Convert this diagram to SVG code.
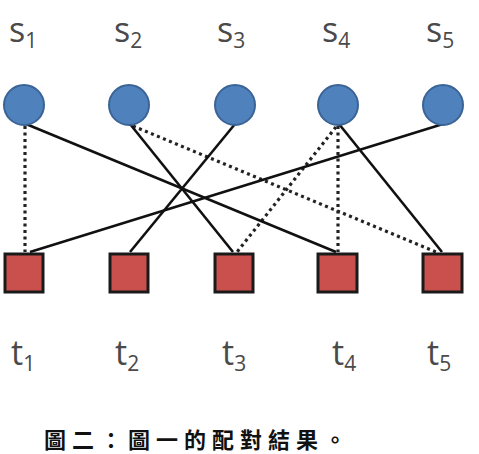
<svg xmlns="http://www.w3.org/2000/svg" width="479" height="454" viewBox="0 0 479 454">
<style>
.lbl{font-family:"Open Sans","Liberation Sans",sans-serif;font-size:34px;fill:#4a4a4a}
.sub{font-size:21px}
.src{fill:#4f81bd;stroke:#3a6496;stroke-width:2}
.dst{fill:#c9504d;stroke:#1a1a1a;stroke-width:3}
.solid{stroke:#111;stroke-width:2.6;fill:none}
.dot{stroke:#222;stroke-width:3.2;stroke-dasharray:3 3.5;fill:none}
.cap{font-family:"Noto Sans CJK TC","Noto Sans CJK SC",sans-serif;font-size:22px;font-weight:700;fill:#111;letter-spacing:6px}
</style>
<rect width="479" height="454" fill="#fff"/>
<g id="connectors">
<line class="dot" x1="25" y1="126" x2="25" y2="252"/>
<line class="dot" x1="133" y1="126" x2="436" y2="252"/>
<line class="dot" x1="336" y1="127" x2="237" y2="252"/>
<line class="dot" x1="338" y1="126" x2="338" y2="252"/>
<line class="solid" x1="26" y1="124" x2="336" y2="252"/>
<line class="solid" x1="130" y1="124" x2="233" y2="252"/>
<line class="solid" x1="235" y1="124" x2="130" y2="252"/>
<line class="solid" x1="339" y1="124" x2="442" y2="252"/>
<line class="solid" x1="443" y1="124" x2="30" y2="252"/>
</g>
<g id="s1"><circle class="src" cx="24" cy="105" r="20"/><text class="lbl" x="9" y="42">s<tspan class="sub" dy="6">1</tspan></text></g>
<g id="s2"><circle class="src" cx="129" cy="105" r="20"/><text class="lbl" x="114" y="42">s<tspan class="sub" dy="6">2</tspan></text></g>
<g id="s3"><circle class="src" cx="235" cy="105" r="20"/><text class="lbl" x="217" y="42">s<tspan class="sub" dy="6">3</tspan></text></g>
<g id="s4"><circle class="src" cx="338" cy="105" r="20"/><text class="lbl" x="322" y="42">s<tspan class="sub" dy="6">4</tspan></text></g>
<g id="s5"><circle class="src" cx="443" cy="105" r="20"/><text class="lbl" x="426" y="42">s<tspan class="sub" dy="6">5</tspan></text></g>
<g id="t1"><rect class="dst" x="5" y="254" width="38" height="38"/><text class="lbl" x="11" y="365">t<tspan class="sub" dy="6">1</tspan></text></g>
<g id="t2"><rect class="dst" x="110" y="254" width="38" height="38"/><text class="lbl" x="115" y="365">t<tspan class="sub" dy="6">2</tspan></text></g>
<g id="t3"><rect class="dst" x="215" y="254" width="38" height="38"/><text class="lbl" x="222" y="365">t<tspan class="sub" dy="6">3</tspan></text></g>
<g id="t4"><rect class="dst" x="318" y="254" width="39" height="38"/><text class="lbl" x="332" y="365">t<tspan class="sub" dy="6">4</tspan></text></g>
<g id="t5"><rect class="dst" x="423" y="254" width="39" height="38"/><text class="lbl" x="427" y="365">t<tspan class="sub" dy="6">5</tspan></text></g>
<text class="cap" x="44" y="448">圖二：圖一的配對結果。</text>
</svg>
